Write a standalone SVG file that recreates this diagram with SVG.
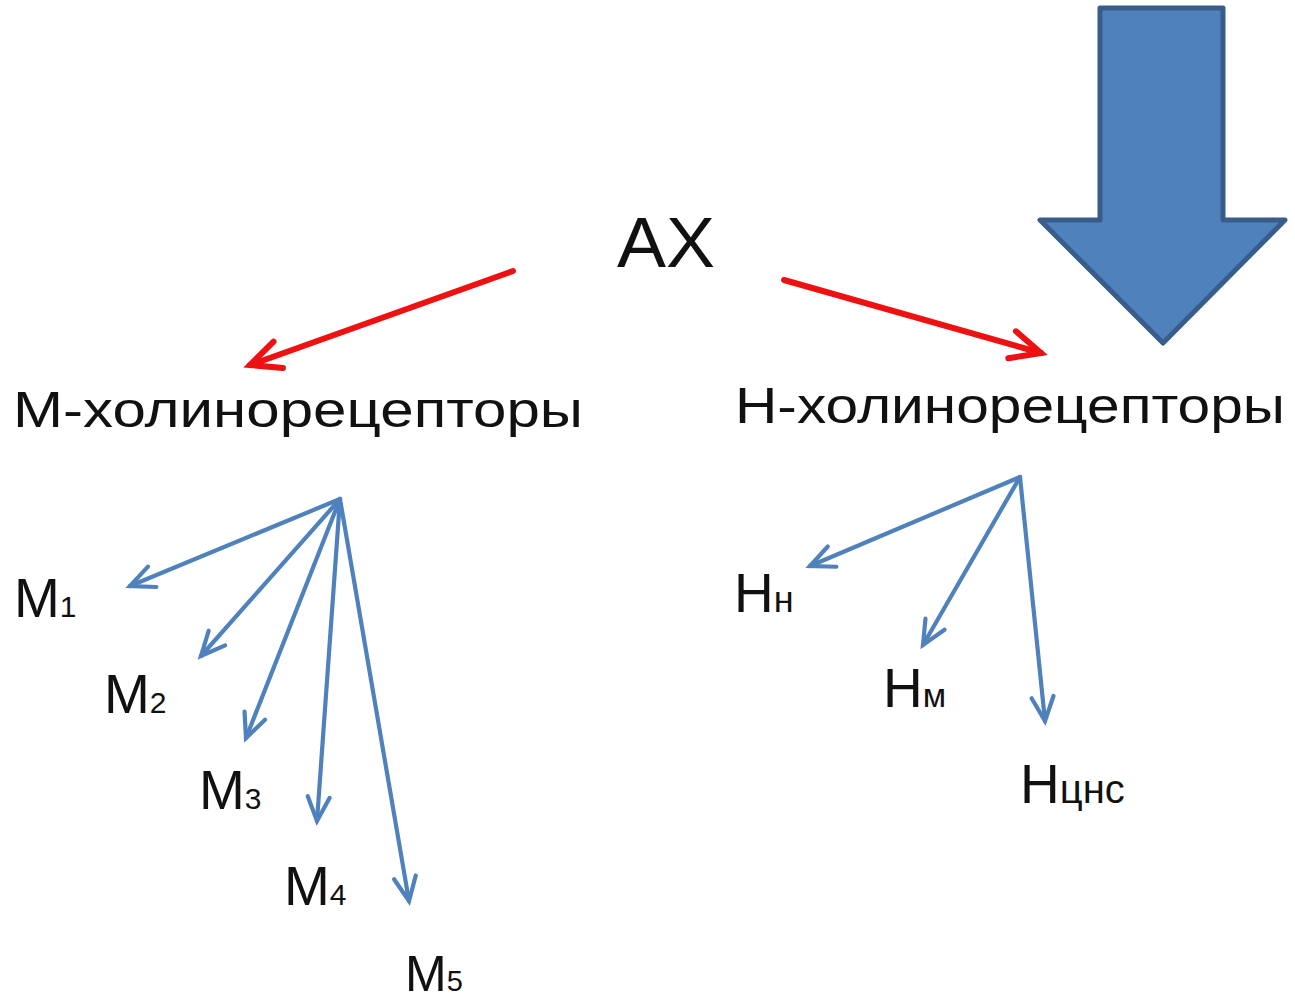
<svg xmlns="http://www.w3.org/2000/svg" width="1295" height="1003" viewBox="0 0 1295 1003">
<style>
.t{font-family:"Liberation Sans","Open Sans",sans-serif;fill:#111}
.red{stroke:#EE1111;stroke-width:6;fill:none;stroke-linecap:round}
.blue{stroke:#4F81BD;stroke-width:4.2;fill:none;stroke-linecap:round}
</style>
<defs>
<marker id="hr" markerUnits="userSpaceOnUse" markerWidth="60" markerHeight="60" viewBox="-40 -30 60 60" refX="0" refY="0" orient="auto" overflow="visible">
<path d="M-30,-14 L0,0 L-30,14" fill="none" stroke="#EE1111" stroke-width="6" stroke-linecap="round" stroke-linejoin="miter"/>
</marker>
<marker id="hb" markerUnits="userSpaceOnUse" markerWidth="40" markerHeight="40" viewBox="-30 -20 40 40" refX="0" refY="0" orient="auto" overflow="visible">
<path d="M-24,-11 L0,0 L-24,11" fill="none" stroke="#4F81BD" stroke-width="4.2" stroke-linecap="round" stroke-linejoin="miter"/>
</marker>
</defs>
<g id="bigArrow">
<path d="M1100,8 L1223,8 L1223,220 L1285,220 L1163,343 L1040,220 L1100,220 Z" fill="#4F81BD" stroke="#385D8A" stroke-width="5" stroke-linejoin="round"/>
</g>
<g id="ax"><text class="t" x="617" y="267" font-size="70" textLength="98" lengthAdjust="spacingAndGlyphs">АХ</text></g>
<g id="mchol"><text class="t" x="13" y="427" font-size="50" textLength="570" lengthAdjust="spacingAndGlyphs">М-холинорецепторы</text></g>
<g id="nchol"><text class="t" x="735" y="423" font-size="50" textLength="550" lengthAdjust="spacingAndGlyphs">Н-холинорецепторы</text></g>
<g id="m1"><text class="t" x="14" y="617" font-size="55">М<tspan font-size="30">1</tspan></text></g>
<g id="m2"><text class="t" x="104" y="713" font-size="55">М<tspan font-size="30">2</tspan></text></g>
<g id="m3"><text class="t" x="199" y="809" font-size="55">М<tspan font-size="30">3</tspan></text></g>
<g id="m4"><text class="t" x="284" y="905" font-size="55">М<tspan font-size="30">4</tspan></text></g>
<g id="m5"><text class="t" x="405" y="991" font-size="50">М<tspan font-size="29">5</tspan></text></g>
<g id="hn"><text class="t" x="734" y="612" font-size="55">Н<tspan font-size="36">н</tspan></text></g>
<g id="hm"><text class="t" x="883" y="707" font-size="55">Н<tspan font-size="34">м</tspan></text></g>
<g id="hcns"><text class="t" x="1020" y="803" font-size="55">Н<tspan font-size="40">цнс</tspan></text></g>
<g id="connectors">
<line class="red" x1="513" y1="271" x2="250" y2="365" marker-end="url(#hr)"/>
<line class="red" x1="784" y1="280" x2="1041" y2="353" marker-end="url(#hr)"/>
<line class="blue" x1="340" y1="499" x2="130" y2="586" marker-end="url(#hb)"/>
<line class="blue" x1="340" y1="499" x2="201" y2="656" marker-end="url(#hb)"/>
<line class="blue" x1="340" y1="499" x2="246" y2="738" marker-end="url(#hb)"/>
<line class="blue" x1="340" y1="499" x2="317" y2="821" marker-end="url(#hb)"/>
<line class="blue" x1="340" y1="499" x2="409" y2="901" marker-end="url(#hb)"/>
<line class="blue" x1="1020" y1="477" x2="810" y2="566" marker-end="url(#hb)"/>
<line class="blue" x1="1020" y1="477" x2="923" y2="645" marker-end="url(#hb)"/>
<line class="blue" x1="1020" y1="477" x2="1045" y2="721" marker-end="url(#hb)"/>
</g>
</svg>
